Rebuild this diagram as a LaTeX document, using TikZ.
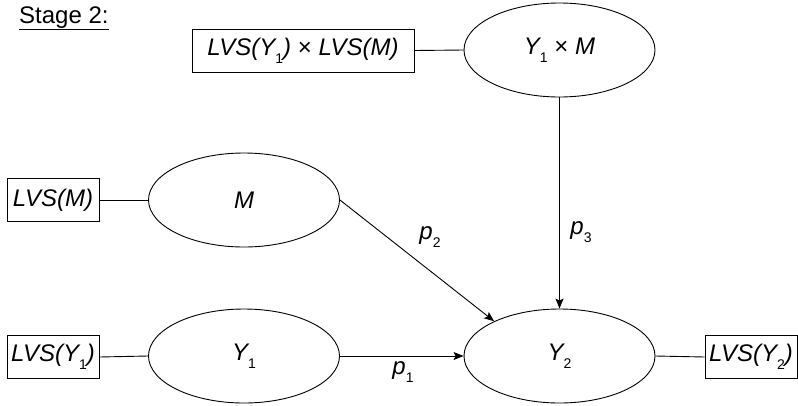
\documentclass[tikz,border=0pt]{standalone}
\usepackage{fontspec}
\setmainfont{Liberation Sans}
\usetikzlibrary{arrows.meta,shapes.geometric}
\newcommand{\lowsub}[1]{\raisebox{-0.33em}{\upshape\fontsize{14}{14}\selectfont #1}}
\begin{document}
\begin{tikzpicture}[x=1pt,y=-1pt, font=\fontsize{24}{28}\selectfont,
  lat/.style={draw, ellipse, minimum width=191pt, minimum height=94pt, inner sep=0pt, line width=0.9pt},
  ind/.style={draw, rectangle, minimum height=43pt, inner sep=2pt, line width=0.9pt},
  link/.style={line width=0.9pt},
  causal/.style={line width=0.9pt, -{Stealth[length=10pt,width=8pt,inset=2pt]}},
  lab/.style={inner sep=0pt}]
\useasboundingbox (0,0) rectangle (798,405);
\node[anchor=base west, inner sep=0pt] (stage) at (19,23) {\underline{Stage 2:}};
% nodes
\node[ind, minimum width=222pt] (bx) at (303,50.5) {\itshape LVS(Y\lowsub{1}) \upshape× \itshape LVS(M)};
\node[lat] (ym) at (559.5,50) {\itshape Y\lowsub{1} \upshape× \itshape M};
\node[ind, minimum width=92pt] (bm) at (53,200) {\itshape LVS(M)};
\node[lat] (m) at (244,200) {\itshape M};
\node[ind, minimum width=92pt] (by1) at (53,357) {\itshape LVS(Y\lowsub{1})};
\node[lat] (y1) at (244,356) {\itshape Y\lowsub{1}};
\node[lat] (y2) at (559.5,356) {\itshape Y\lowsub{2}};
\node[ind, minimum width=92pt] (by2) at (751,357) {\itshape LVS(Y\lowsub{2})};
% links
\draw[link] (bx.east) -- (ym.west);
\draw[link] (bm.east) -- (m.west);
\draw[link] (by1.east) -- (y1.west);
\draw[link] (y2.east) -- (by2.west);
% paths
\draw[causal] (ym.south) -- (y2.north);
\draw[causal] (m.east) -- (y2.152);
\draw[causal] (y1.east) -- (y2.west);
% labels
\node[lab] (p1) at (403,372) {\itshape p\lowsub{1}};
\node[lab] (p2) at (430,237) {\itshape p\lowsub{2}};
\node[lab] (p3) at (581,232) {\itshape p\lowsub{3}};
\end{tikzpicture}
\end{document}
